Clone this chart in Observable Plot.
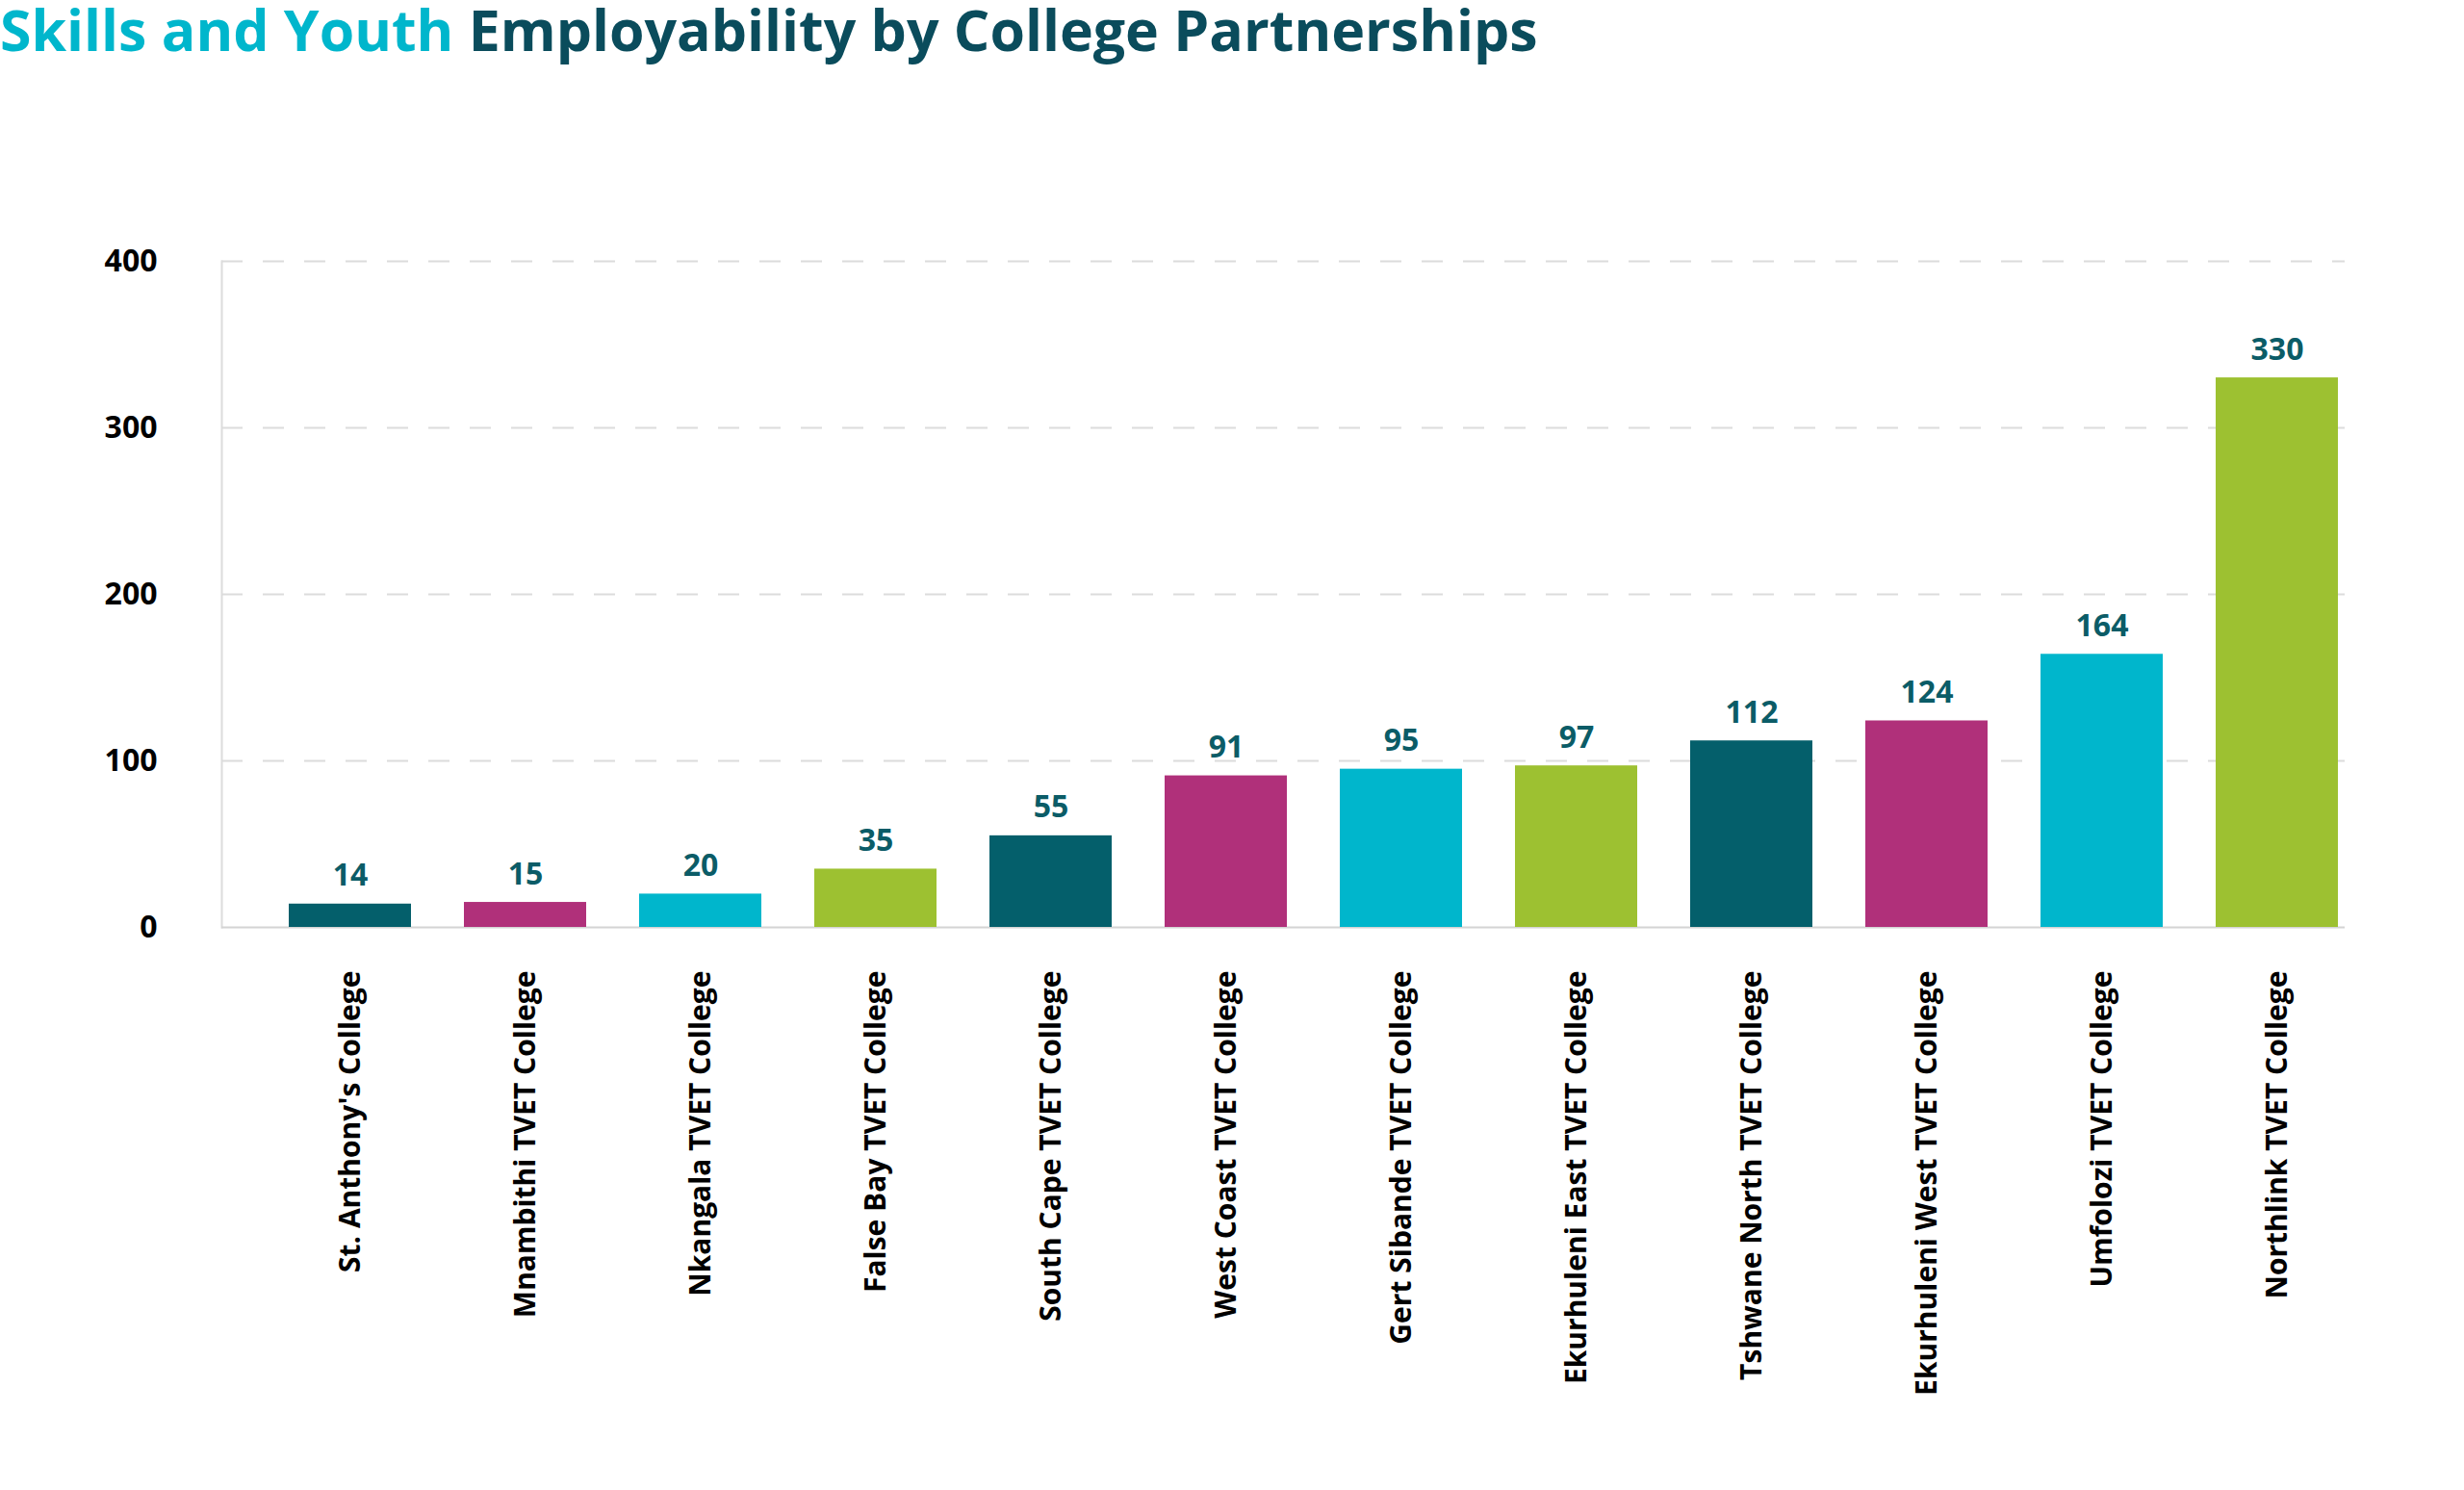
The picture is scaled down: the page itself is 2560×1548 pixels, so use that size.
<!DOCTYPE html>
<html>
<head>
<meta charset="utf-8">
<script src="https://cdn.jsdelivr.net/npm/d3@7"></script>
<script src="https://cdn.jsdelivr.net/npm/@observablehq/plot@0.6"></script>
<style>
  html, body { margin: 0; padding: 0; background: #fff; overflow: hidden; width: 2560px; height: 1548px; }
  #title { position: absolute; z-index: 2; left: 0; top: 1px; font-family: "Open Sans", sans-serif; font-weight: 700; font-size: 59px; line-height: 76px; white-space: nowrap; color: #0a4c5c; }
  #title .hl { color: #00b6cc; }
  #chart { position: absolute; z-index: 1; left: 0; top: 60px; }
</style>
</head>
<body>
<div id="title" style="margin-top:-9px"><span class="hl">Skills and Youth</span> Employability by College Partnerships</div>
<div id="chart"></div>
<script>
const colleges = [
  "St. Anthony's College",
  "Mnambithi TVET College",
  "Nkangala TVET College",
  "False Bay TVET College",
  "South Cape TVET College",
  "West Coast TVET College",
  "Gert Sibande TVET College",
  "Ekurhuleni East TVET College",
  "Tshwane North TVET College",
  "Ekurhuleni West TVET College",
  "Umfolozi TVET College",
  "Northlink TVET College"
];
const values = [14, 15, 20, 35, 55, 91, 95, 97, 112, 124, 164, 330];
const palette = ["#045f6b", "#b0307a", "#00b6cc", "#9dc131"];
const yTicks = [0, 100, 200, 300, 400];
const gridTicks = [100, 200, 300, 400];

const data = colleges.map((c, i) => ({college: c, value: values[i], color: palette[i % palette.length]}));

const chart = Plot.plot({
  width: 2560,
  height: 1488,
  marginTop: 211,
  marginBottom: 585,
  marginLeft: 230,
  marginRight: 124,
  style: {fontFamily: "'Open Sans', sans-serif", background: "transparent", color: "black"},
  x: {domain: colleges, range: [298, 2432], paddingInner: 0.3, paddingOuter: 0, label: null},
  y: {domain: [0, 400], label: null},
  color: {type: "identity"},
  marks: [
    Plot.ruleY(gridTicks, {stroke: "#dcdcdc", strokeWidth: 2, strokeDasharray: "22,21"}),
    Plot.frame({anchor: "left", stroke: "#dcdcdc", strokeWidth: 2}),
    Plot.ruleY([0], {stroke: "#d4d4d4", strokeWidth: 2}),
    Plot.barY(data, {x: "college", y: "value", fill: "color"}),
    Plot.text(data, {x: "college", y: "value", text: d => String(d.value), dy: -19, lineAnchor: "bottom", fill: "#0b5c67", fontWeight: 700, fontSize: 32}),
    Plot.axisY({ticks: yTicks, tickSize: 0, tickPadding: 67, fontSize: 32, fontWeight: 700, label: null}),
    Plot.axisX({tickSize: 0, tickPadding: 45, tickRotate: -90, fontSize: 30, fontWeight: 700, label: null})
  ]
});
document.getElementById("chart").appendChild(chart);
</script>
</body>
</html>
